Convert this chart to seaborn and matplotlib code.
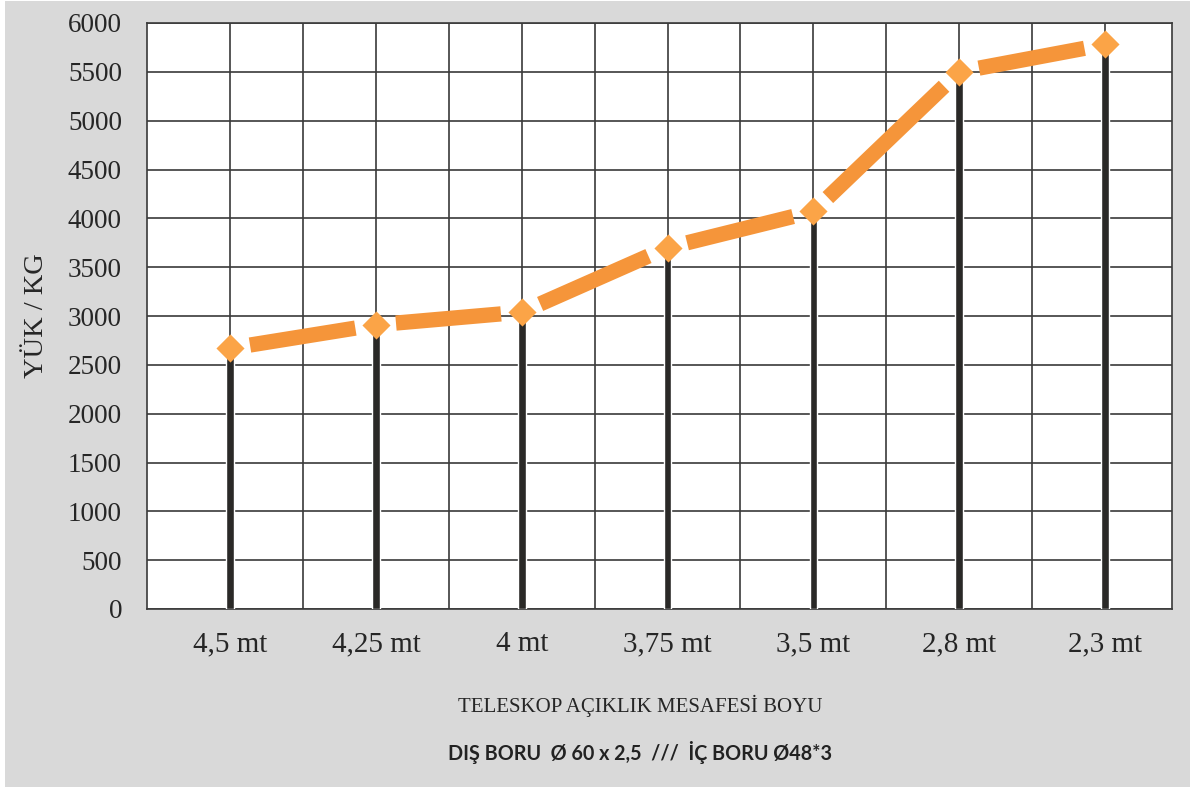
import matplotlib
matplotlib.use('Agg')
import matplotlib.pyplot as plt
import numpy as np
import pandas as pd
import seaborn as sns
from matplotlib.patches import Rectangle
from matplotlib.ticker import FixedLocator

# telescope span length vs load
lengths = ['4,5 mt', '4,25 mt', '4 mt', '3,75 mt', '3,5 mt', '2,8 mt', '2,3 mt']
loads = [2670, 2910, 3040, 3700, 4070, 5500, 5780]
y_ticks = list(range(0, 6001, 500))

df = pd.DataFrame({'Boy': lengths, 'Yuk': loads})

sns.set_theme(style='white')
plt.rcParams['font.family'] = ['Liberation Serif', 'DejaVu Serif']

fig = plt.figure(figsize=(11.97, 7.87), dpi=100)
fig.patch.set_facecolor('white')
fig.patches.append(Rectangle((5 / 1197, 0), 1185 / 1197, 1 - 1 / 787,
                             transform=fig.transFigure, facecolor='#d9d9d9',
                             edgecolor='none', zorder=-10))

ax = fig.add_axes([147 / 1197, 1 - 609 / 787, 1025 / 1197, 586 / 787])
ax.set_facecolor('white')

grid_col = '#3a3a3a'
# drop bars
sns.barplot(data=df, x='Boy', y='Yuk', width=0.052, color='#2a2927',
            saturation=1, ax=ax, zorder=3)

# dashed orange line: one dash per segment, gaps around the markers
xs = np.arange(len(loads))
for i in range(len(loads) - 1):
    ax.annotate('', xy=(xs[i + 1], loads[i + 1]), xytext=(xs[i], loads[i]),
                arrowprops=dict(arrowstyle='-', color='#f5953a', lw=11,
                                capstyle='butt', shrinkA=14.5, shrinkB=15),
                zorder=4)

sns.scatterplot(x=xs, y=loads, marker='D', s=205, color='#fba447',
                linewidth=0, ax=ax, zorder=5)

ax.set_xlim(-0.57, 6.46)
ax.set_ylim(0, 6000)
ax.set_yticks(y_ticks)
ax.set_yticklabels([str(v) for v in y_ticks])
ax.xaxis.set_minor_locator(FixedLocator(np.arange(0.5, 6, 1.0)))
ax.grid(True, which='both', axis='x', color=grid_col, lw=1.2, zorder=0)
ax.grid(True, which='major', axis='y', color=grid_col, lw=1.2, zorder=0)
ax.set_axisbelow(True)
for sp in ax.spines.values():
    sp.set_color(grid_col)
    sp.set_linewidth(1.2)

ax.tick_params(axis='both', which='both', length=0)
ax.tick_params(axis='y', pad=18, labelsize=19.5, labelcolor='#262626')
ax.tick_params(axis='x', pad=16, labelsize=21, labelcolor='#262626')

ax.set_xlabel('')
ax.set_ylabel('YÜK / KG', fontsize=20.5, color='#262626')
ax.yaxis.set_label_coords(-0.096, 0.5)

fig.text(640 / 1197, 1 - 706 / 787, 'TELESKOP AÇIKLIK MESAFESİ BOYU',
         ha='center', va='center', fontsize=15, color='#262626')
fig.text(640 / 1197, 1 - 752 / 787, 'DIŞ BORU  Ø 60 x 2,5  ///  İÇ BORU Ø48*3',
         ha='center', va='center', fontsize=14.2, fontweight='bold',
         family=['Lato', 'DejaVu Sans'], color='#222222')

fig.savefig('out.png', dpi=100)
